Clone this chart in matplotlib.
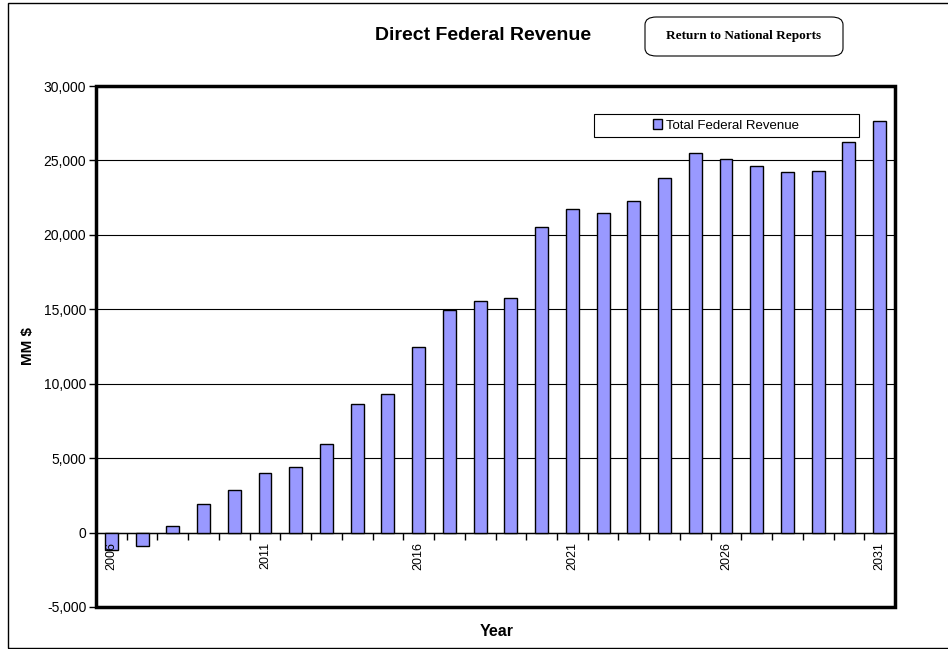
import numpy as np
import matplotlib.pyplot as plt
from matplotlib.patches import Rectangle, FancyBboxPatch

plt.rcParams['font.family'] = ['Liberation Sans', 'DejaVu Sans']

years = list(range(2006, 2032))
revenue = [-1150, -870, 440, 1920, 2850, 3970, 4390, 5960, 8640, 9330,
           12490, 14950, 15550, 15760, 20550, 21750, 21500, 22300, 23800, 25490,
           25100, 24630, 24230, 24300, 26250, 27660]
y_ticks = [-5000, 0, 5000, 10000, 15000, 20000, 25000, 30000]
label_years = [2006, 2011, 2016, 2021, 2026, 2031]

fig = plt.figure(figsize=(9.48, 6.49), dpi=100)
ax = fig.add_axes([96 / 948, 42 / 649, 799 / 948, 521 / 649])

x = np.arange(len(years))
bars = ax.bar(x, revenue, width=0.42, color='#9999FF', edgecolor='black', linewidth=1,
              zorder=3)

ax.set_xlim(-0.5, len(years) - 0.5)
ax.set_ylim(-5000, 30000)
ax.set_yticks(y_ticks)
ax.set_yticklabels([f'{v:,}' for v in y_ticks], fontsize=10)
ax.yaxis.grid(True, color='black', linewidth=0.8)
ax.set_axisbelow(True)
ax.xaxis.set_zorder(4)  # year labels print over the negative bars
ax.tick_params(axis='y', direction='out', length=5, width=1, pad=2)

# category axis sits on the zero line
ax.spines['bottom'].set_position(('data', 0))
ax.spines['bottom'].set_linewidth(1)
for s in ['top', 'left', 'right']:
    ax.spines[s].set_visible(False)
ax.set_xticks(np.arange(-0.5, len(years)), minor=False)
ax.set_xticklabels([])
ax.tick_params(axis='x', which='major', direction='out', length=5, width=1)
ax.set_xticks([years.index(y) for y in label_years], minor=True)
ax.set_xticklabels([str(y) for y in label_years], minor=True, rotation=90, fontsize=9)
ax.tick_params(axis='x', which='minor', length=0, pad=7)

# plot-area frame
ax.add_patch(Rectangle((0, 0), 1, 1, transform=ax.transAxes, fill=False,
                       edgecolor='black', linewidth=2.5, clip_on=False, zorder=5))

fig.text(28 / 948, 1 - 346 / 649, 'MM $', rotation=90, ha='center', va='center',
         fontsize=11, fontweight='bold')
fig.text(497 / 948, 1 - 631 / 649, 'Year', ha='center', va='center',
         fontsize=11.5, fontweight='bold')
fig.text(483 / 948, 1 - 35 / 649, 'Direct Federal Revenue', ha='center', va='center',
         fontsize=14, fontweight='bold')

# button
fig.patches.append(FancyBboxPatch((645 / 948, 1 - 56 / 649), 198 / 948, 39 / 649,
                                  boxstyle='round,pad=0,rounding_size=0.012',
                                  transform=fig.transFigure, facecolor='white',
                                  edgecolor='black', linewidth=0.8))
fig.text(744 / 948, 1 - 36.5 / 649, 'Return to National Reports', ha='center', va='center',
         fontsize=9.5, fontweight='bold', family=['Liberation Serif', 'DejaVu Serif'])

# legend box
fig.patches.append(Rectangle((594 / 948, 1 - 137 / 649), 265 / 948, 23 / 649,
                             transform=fig.transFigure, facecolor='white',
                             edgecolor='black', linewidth=0.8, zorder=6))
leg = fig.legend([bars], ['Total Federal Revenue'], loc='center',
                 bbox_to_anchor=(726 / 948, 1 - 125.5 / 649),
                 frameon=False, fontsize=9.5,
                 handlelength=0.7, handleheight=0.7, handletextpad=0.3,
                 borderpad=0, borderaxespad=0)
leg.set_zorder(7)

# outer border
fig.patches.append(Rectangle((8 / 948, 1 / 649), 960 / 948, 645 / 649,
                             transform=fig.transFigure, fill=False,
                             edgecolor='black', linewidth=1))

fig.savefig('out.png', dpi=100)
